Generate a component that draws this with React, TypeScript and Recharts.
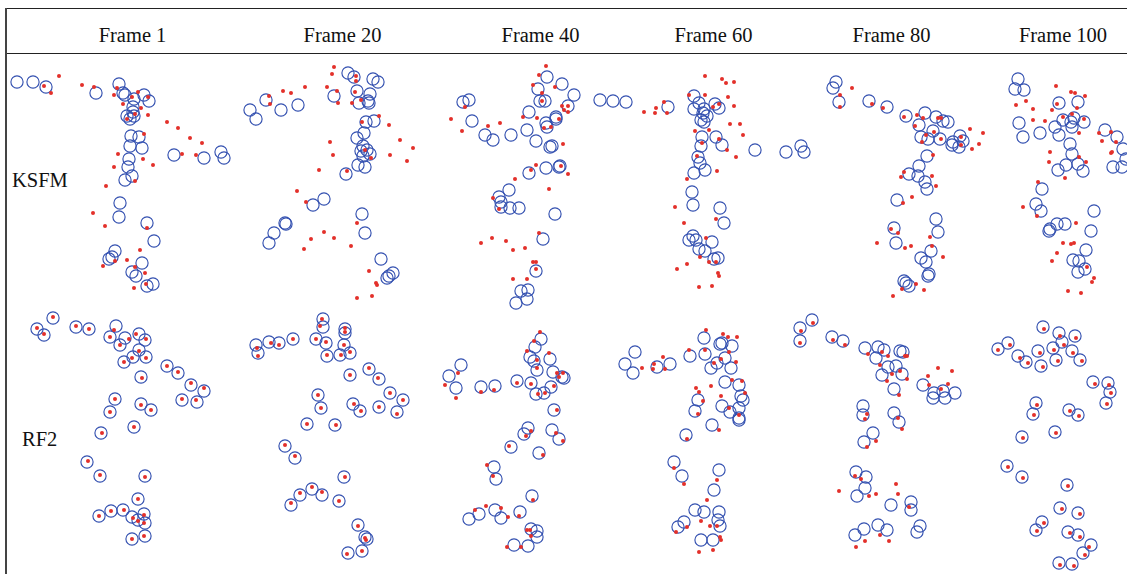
import React from "react";
import { ScatterChart, Scatter, XAxis, YAxis } from "recharts";

const frameLabels = ["Frame 1", "Frame 20", "Frame 40", "Frame 60", "Frame 80", "Frame 100"];
const frameLabelX = [132.5, 342.5, 540.5, 713.5, 891.5, 1063];
const rowLabels = ["KSFM", "RF2"];

// ---- KSFM row ----
const ksfm1Blue = [[17,82],[33,82],[46,87],[96,93],[119,84],[123,93],[125,95],[134,99],[144,95],[149,101],[133,107],[133,112],[127,116],[130,119],[134,116],[131,136],[139,137],[130,146],[142,148],[129,159],[128,167],[132,176],[125,180],[174,155],[204,158],[221,152],[224,158],[120,203],[119,217],[147,223],[154,241],[115,251],[112,257],[109,259],[142,263],[132,272],[136,276],[147,286],[153,284]];
const ksfm1Red = [[59,76],[44,86],[51,93],[82,85],[94,87],[117,88],[114,95],[123,104],[132,97],[138,92],[148,97],[141,108],[135,114],[148,115],[127,119],[167,122],[178,128],[190,138],[202,143],[182,154],[196,155],[144,134],[118,154],[143,159],[153,165],[114,167],[135,181],[106,186],[93,213],[105,226],[147,228],[140,250],[127,260],[115,261],[103,266],[135,267],[145,273],[146,284],[134,288]];
const ksfm20Blue = [[348,73],[354,77],[373,79],[378,82],[266,100],[250,110],[256,119],[281,110],[298,105],[334,96],[357,91],[370,94],[359,103],[368,101],[369,103],[366,122],[374,121],[364,133],[357,138],[363,146],[361,151],[367,150],[370,154],[363,156],[358,165],[365,167],[346,174],[324,199],[313,205],[285,223],[286,224],[274,233],[269,243],[362,214],[365,233],[381,259],[393,273],[389,276],[387,278]];
const ksfm20Red = [[334,67],[332,74],[356,76],[356,81],[283,91],[291,93],[305,87],[327,87],[337,91],[269,96],[270,104],[355,92],[352,103],[361,100],[338,103],[379,116],[389,125],[362,122],[400,140],[413,148],[390,155],[407,161],[330,142],[333,155],[371,158],[365,150],[319,170],[347,171],[297,191],[306,202],[324,232],[334,238],[311,239],[304,249],[351,246],[357,223],[369,271],[376,283],[377,285],[372,296],[357,298]];
const ksfm40Blue = [[547,77],[562,84],[538,89],[574,95],[540,101],[545,101],[568,106],[463,102],[469,100],[472,121],[485,135],[493,140],[511,135],[529,112],[527,130],[536,141],[546,123],[547,127],[556,119],[556,117],[550,147],[552,146],[529,173],[546,168],[559,167],[560,166],[509,190],[499,197],[501,202],[501,207],[510,208],[519,208],[555,214],[543,239],[536,271],[521,291],[528,290],[527,299],[516,303]];
const ksfm40Red = [[546,66],[539,75],[533,85],[555,87],[542,93],[542,101],[562,106],[568,106],[564,110],[568,112],[559,119],[551,127],[544,128],[537,118],[523,117],[465,107],[451,119],[462,131],[488,126],[500,123],[563,144],[536,165],[531,170],[561,166],[568,174],[515,179],[549,189],[493,198],[499,209],[539,233],[481,243],[492,238],[506,241],[513,250],[525,248],[533,262],[536,262],[536,269],[513,279],[527,279]];
const ksfm60Blue = [[600,100],[613,101],[626,102],[668,107],[694,96],[699,103],[694,109],[704,109],[703,113],[715,104],[719,108],[701,120],[704,122],[707,116],[702,137],[716,137],[722,145],[701,146],[698,157],[700,163],[705,170],[694,173],[755,150],[692,192],[693,205],[720,208],[724,223],[693,236],[689,240],[696,240],[712,242],[699,249],[705,251],[714,259],[718,258]];
const ksfm60Red = [[705,76],[722,79],[726,83],[734,82],[705,95],[689,95],[728,97],[734,106],[713,107],[719,104],[664,102],[656,108],[655,113],[644,112],[667,113],[730,124],[740,124],[743,135],[695,131],[709,130],[719,139],[702,143],[727,150],[736,157],[697,156],[717,171],[687,179],[675,207],[684,223],[716,219],[706,238],[700,257],[709,262],[716,262],[687,264],[677,269],[718,273],[719,276],[699,287],[712,286]];
const ksfm80Blue = [[836,82],[833,88],[839,102],[869,101],[887,107],[906,116],[925,113],[919,125],[936,117],[943,121],[948,122],[921,137],[928,139],[933,131],[940,139],[953,142],[960,136],[963,141],[959,147],[952,145],[786,152],[801,146],[804,152],[927,156],[919,166],[909,174],[918,176],[925,182],[927,189],[897,200],[936,219],[938,232],[894,228],[896,243],[931,251],[921,258],[926,262],[929,274],[928,276],[904,281],[909,286],[906,283]];
const ksfm80Red = [[852,88],[840,95],[840,107],[872,104],[883,108],[904,117],[917,115],[923,118],[938,118],[941,118],[915,126],[926,135],[934,132],[922,142],[941,139],[970,129],[983,133],[961,137],[961,145],[972,149],[979,144],[933,155],[904,172],[901,177],[932,176],[936,186],[912,197],[903,203],[891,229],[898,233],[877,243],[905,248],[911,246],[930,237],[932,246],[943,257],[916,284],[902,289],[924,290],[893,296]];
const ksfm100Blue = [[1018,79],[1015,89],[1024,90],[1059,103],[1078,102],[1019,123],[1023,137],[1040,133],[1055,127],[1059,135],[1063,120],[1071,122],[1072,127],[1074,118],[1084,122],[1070,144],[1072,154],[1066,165],[1058,170],[1078,164],[1083,171],[1105,130],[1117,137],[1123,149],[1126,159],[1113,167],[1122,167],[1042,189],[1036,204],[1041,211],[1049,231],[1050,229],[1057,224],[1065,224],[1094,211],[1091,231],[1086,250],[1073,260],[1079,261],[1085,269],[1078,272]];
const ksfm100Red = [[1056,86],[1071,92],[1075,93],[1085,96],[1016,105],[1026,101],[1033,109],[1052,110],[1057,104],[1033,120],[1045,121],[1063,117],[1072,114],[1077,108],[1084,119],[1079,133],[1099,133],[1102,141],[1111,132],[1116,142],[1111,153],[1112,152],[1050,152],[1049,162],[1079,157],[1086,162],[1065,178],[1038,182],[1023,207],[1037,216],[1076,223],[1063,243],[1071,244],[1074,243],[1057,253],[1052,261],[1087,267],[1094,278],[1092,282],[1068,291],[1081,293]];

// ---- RF2 row ----
const rf1Blue = [[53,318],[37,329],[44,335],[76,327],[89,329],[116,326],[110,337],[120,345],[125,338],[139,334],[145,340],[139,350],[133,357],[146,357],[124,362],[141,377],[167,366],[178,373],[191,385],[204,391],[182,400],[197,402],[115,399],[110,412],[141,404],[151,410],[134,427],[101,433],[87,462],[100,476],[145,476],[138,499],[99,516],[111,511],[123,510],[132,517],[138,520],[144,514],[145,523],[132,539],[145,536]];
const rf1Red = [[53,317],[37,328],[44,334],[76,326],[89,329],[114,330],[110,337],[120,345],[129,339],[136,334],[146,339],[139,351],[132,358],[146,358],[124,362],[142,378],[167,366],[178,372],[191,383],[204,388],[182,399],[196,400],[115,399],[110,412],[141,405],[151,410],[134,427],[102,433],[88,461],[100,475],[145,477],[138,499],[99,516],[111,511],[124,510],[133,518],[138,521],[144,515],[144,523],[132,539],[144,536]];
const rf20Blue = [[323,319],[323,327],[345,329],[345,333],[256,345],[258,353],[269,342],[279,343],[293,339],[316,339],[326,343],[327,356],[344,345],[340,355],[350,353],[350,375],[369,369],[379,379],[390,393],[403,400],[379,407],[397,412],[318,395],[321,408],[353,404],[360,411],[307,424],[335,425],[285,446],[295,458],[344,477],[312,489],[300,495],[322,495],[291,505],[339,501],[358,525],[365,537],[367,539],[348,553],[362,551]];
const rf20Red = [[322,319],[320,326],[345,328],[345,332],[257,348],[258,356],[271,343],[279,345],[293,339],[316,339],[326,342],[327,355],[344,345],[341,355],[350,352],[350,375],[369,368],[378,378],[390,393],[403,400],[379,407],[397,414],[318,395],[321,408],[354,404],[361,411],[307,424],[336,425],[285,445],[295,456],[345,477],[312,487],[300,493],[322,492],[291,503],[339,501],[358,526],[365,538],[366,540],[347,554],[362,551]];
const rf40Blue = [[541,339],[535,347],[530,357],[534,361],[537,370],[550,359],[553,372],[562,377],[564,378],[551,387],[544,393],[536,394],[531,383],[517,381],[461,365],[449,376],[456,388],[481,387],[495,386],[554,410],[528,428],[524,434],[552,430],[559,439],[511,447],[539,453],[494,467],[496,479],[532,496],[520,512],[495,510],[501,518],[479,514],[469,519],[531,529],[537,531],[537,537],[514,545],[528,546]];
const rf40Red = [[540,332],[534,341],[527,351],[537,360],[537,368],[549,353],[557,373],[563,373],[559,377],[554,386],[545,393],[538,394],[531,384],[517,383],[458,373],[445,385],[456,398],[481,392],[494,390],[557,410],[531,431],[526,436],[556,433],[563,441],[509,446],[543,455],[487,465],[493,476],[533,500],[519,516],[486,506],[475,510],[501,508],[508,517],[527,530],[530,530],[531,536],[507,547],[521,547]];
const rf60Blue = [[635,352],[625,364],[633,373],[657,367],[670,364],[690,356],[704,338],[705,354],[720,344],[722,343],[732,346],[725,358],[717,363],[711,368],[731,368],[725,382],[739,385],[741,396],[743,400],[698,400],[695,411],[722,406],[730,412],[739,408],[739,418],[739,420],[712,425],[686,435],[674,462],[682,476],[719,470],[714,490],[695,510],[704,512],[719,512],[684,522],[678,527],[718,520],[720,526],[701,540],[713,540]];
const rf60Red = [[706,330],[723,334],[728,337],[737,337],[705,350],[689,350],[663,357],[654,364],[653,369],[665,369],[642,368],[729,352],[736,362],[714,363],[721,359],[732,380],[742,381],[745,393],[696,388],[699,392],[711,386],[721,396],[703,401],[729,408],[698,414],[739,415],[719,430],[687,439],[674,468],[684,484],[717,480],[707,500],[701,521],[710,526],[717,526],[687,527],[676,532],[720,537],[721,540],[699,552],[713,550]];
const rf80Blue = [[812,320],[800,328],[800,341],[832,337],[843,341],[865,348],[878,347],[884,350],[876,358],[900,351],[903,352],[888,367],[896,366],[882,375],[902,374],[894,389],[923,385],[934,393],[943,391],[955,393],[933,398],[945,398],[863,406],[863,415],[894,413],[899,422],[873,433],[864,442],[856,472],[866,477],[865,488],[857,496],[891,505],[911,502],[911,510],[920,526],[917,532],[878,525],[887,530],[864,529],[855,535]];
const rf80Red = [[813,323],[801,331],[800,343],[833,340],[845,345],[868,354],[882,352],[888,356],[880,365],[905,356],[907,356],[892,374],[900,371],[887,381],[907,379],[899,395],[928,376],[938,368],[952,371],[929,385],[941,389],[948,384],[867,414],[865,419],[898,418],[902,429],[876,441],[867,447],[855,476],[861,479],[839,491],[869,496],[876,494],[896,484],[898,494],[909,507],[880,535],[865,541],[889,541],[856,547]];
const rf100Blue = [[1043,327],[1059,333],[1075,336],[1062,342],[1008,343],[998,349],[1018,356],[1038,351],[1053,348],[1026,362],[1041,366],[1056,360],[1072,351],[1080,360],[1093,382],[1108,383],[1110,392],[1106,403],[1036,403],[1033,414],[1069,410],[1078,415],[1022,437],[1055,432],[1007,466],[1022,477],[1067,485],[1060,508],[1078,513],[1042,522],[1036,530],[1068,532],[1078,535],[1091,545],[1083,553],[1059,563],[1072,564]];
const rf100Red = [[1044,329],[1060,336],[1076,338],[1064,345],[1010,345],[998,350],[1020,358],[1040,353],[1054,350],[1028,363],[1043,367],[1058,361],[1073,353],[1082,361],[1095,384],[1109,385],[1111,393],[1107,404],[1037,405],[1034,415],[1070,411],[1079,416],[1023,438],[1056,433],[1008,467],[1023,478],[1068,486],[1062,509],[1080,514],[1044,523],[1037,531],[1070,533],[1080,537],[1089,547],[1085,555],[1060,565],[1074,566]];

const blueSets = [ksfm1Blue, ksfm20Blue, ksfm40Blue, ksfm60Blue, ksfm80Blue, ksfm100Blue, rf1Blue, rf20Blue, rf40Blue, rf60Blue, rf80Blue, rf100Blue];
const redSets = [ksfm1Red, ksfm20Red, ksfm40Red, ksfm60Red, ksfm80Red, ksfm100Red, rf1Red, rf20Red, rf40Red, rf60Red, rf80Red, rf100Red];

const toPts = (a: number[][]) => a.map(([x, y]) => ({ x, y }));

const W = 1127;
const H = 574;
const BLUE = "#3350b0";
const RED = "#e3302a";

const BlueRing = (p: any) => (
  <circle cx={p.cx} cy={p.cy} r={6.1} fill="none" stroke={BLUE} strokeWidth={1.15} />
);
const RedDot = (p: any) => <circle cx={p.cx} cy={p.cy} r={2} fill={RED} stroke="none" />;

export default function App() {
  return (
    <div style={{ position: "absolute", left: 0, top: 0, width: W, height: H, background: "#fff" }}>
      <ScatterChart width={W} height={H} margin={{ top: 0, right: 0, bottom: 0, left: 0 }}>
        <XAxis type="number" dataKey="x" domain={[0, W]} hide />
        <YAxis type="number" dataKey="y" domain={[0, H]} reversed hide />
        {blueSets.map((s, i) => (
          <Scatter key={"b" + i} data={toPts(s)} shape={BlueRing} isAnimationActive={false} />
        ))}
        {redSets.map((s, i) => (
          <Scatter key={"r" + i} data={toPts(s)} shape={RedDot} isAnimationActive={false} />
        ))}
      </ScatterChart>
      <svg
        width={W}
        height={H}
        style={{ position: "absolute", left: 0, top: 0, pointerEvents: "none" }}
      >
        <line x1={6} y1={8.5} x2={W} y2={8.5} stroke="#222" strokeWidth={1.2} />
        <line x1={6} y1={53.5} x2={W} y2={53.5} stroke="#222" strokeWidth={1.2} />
        <line x1={6} y1={8} x2={6} y2={H} stroke="#444" strokeWidth={2} />
        {frameLabels.map((t, i) => (
          <text
            key={t}
            x={frameLabelX[i]}
            y={42}
            textAnchor="middle"
            fontFamily="'Liberation Serif', 'Times New Roman', serif"
            fontSize={20.5}
            fill="#111"
          >
            {t}
          </text>
        ))}
        <text x={12} y={186.5} fontFamily="'Liberation Serif', 'Times New Roman', serif" fontSize={20.5} fill="#111">
          {rowLabels[0]}
        </text>
        <text x={22} y={446} fontFamily="'Liberation Serif', 'Times New Roman', serif" fontSize={20.5} fill="#111">
          {rowLabels[1]}
        </text>
      </svg>
    </div>
  );
}
